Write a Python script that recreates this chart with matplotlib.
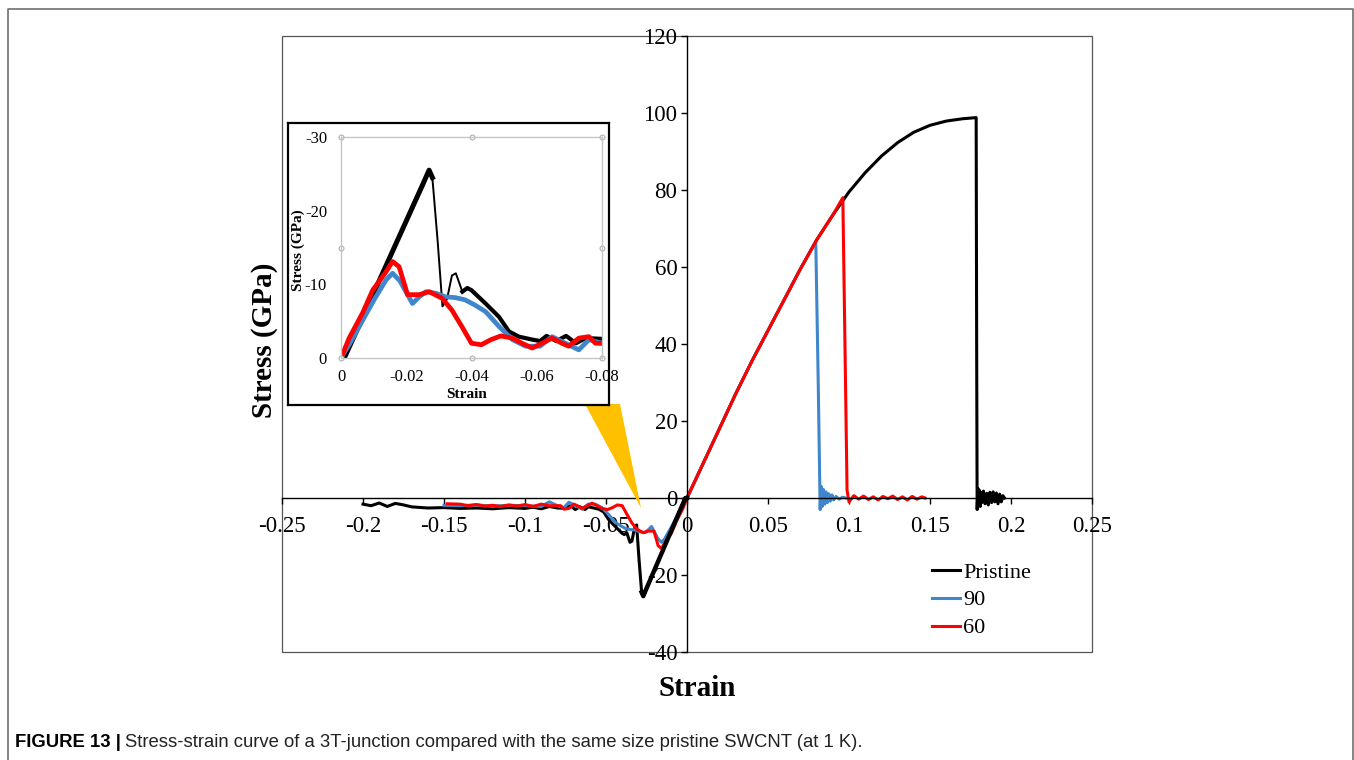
import numpy as np
import matplotlib as mpl
mpl.use('Agg')
import matplotlib.pyplot as plt
from matplotlib.patches import Rectangle, Polygon
from matplotlib.lines import Line2D

# ---- tension side (strain, stress in GPa) ----
pristine_t_x = [0.0, 0.01, 0.02, 0.03, 0.04, 0.05, 0.06, 0.07, 0.08, 0.09, 0.10, 0.11, 0.12, 0.13,
                0.14, 0.15, 0.16, 0.17, 0.1785, 0.1788, 0.1791, 0.1796, 0.180, 0.1805, 0.181, 0.1815,
                0.182, 0.183, 0.184, 0.185, 0.186, 0.187, 0.188, 0.189, 0.190, 0.191, 0.192, 0.193,
                0.194, 0.195, 0.196]
pristine_t_y = [0, 9, 18, 27, 35.5, 43.5, 51.5, 59.5, 67, 73.5, 79.5, 84.5, 88.8, 92.3,
                95, 96.8, 97.9, 98.5, 98.8, 40, -3, 2.5, -2, 2, -2.2, 1.5,
                -1.2, 1.8, -1.5, 1.2, -1.8, 1.5, -1.2, 1.6, -1.0, 1.3, -1.5, 1.0,
                -1.0, 0.6, 0]

blue_t_x = [0.0, 0.01, 0.02, 0.03, 0.04, 0.05, 0.06, 0.07, 0.0795, 0.081, 0.0822, 0.0828, 0.0835,
            0.0842, 0.085, 0.0858, 0.0866, 0.0875, 0.0885, 0.0895, 0.0905, 0.092, 0.094, 0.096, 0.098]
blue_t_y = [0, 9, 18, 27, 35.5, 43.5, 51.5, 59.5, 66.5, 30, -3, 3, -2.2,
            2.2, -1.6, 1.6, -1.2, 1.1, -0.8, 0.8, -0.5, 0.4, -0.3, 0.2, 0]

red_t_x = [0.0, 0.01, 0.02, 0.03, 0.04, 0.05, 0.06, 0.07, 0.08, 0.09, 0.0962, 0.0975, 0.0988,
           0.1, 0.103, 0.106, 0.109, 0.112, 0.115, 0.118, 0.121, 0.124, 0.127, 0.130, 0.133,
           0.136, 0.139, 0.142, 0.145, 0.147]
red_t_y = [0, 9, 18, 27, 35.5, 43.5, 51.5, 59.5, 67, 73.5, 78, 40, 2,
           -1, 0.6, -0.3, 0.5, -0.4, 0.3, -0.5, 0.4, -0.2, 0.5, -0.4, 0.3,
           -0.5, 0.4, -0.3, 0.3, 0]

# ---- compression side (magnitudes; plotted as negative strain / stress) ----
pristine_c_x = [0, 0.001, 0.005, 0.01, 0.015, 0.02, 0.025, 0.027, 0.028, 0.0296, 0.0311, 0.0325,
                0.034, 0.0352, 0.0372, 0.0387, 0.040, 0.0443, 0.0484, 0.0515, 0.0545, 0.0586,
                0.061, 0.063, 0.066, 0.069, 0.072, 0.075, 0.08, 0.085, 0.09, 0.095, 0.1, 0.11,
                0.12, 0.13, 0.14, 0.15, 0.16, 0.17, 0.175, 0.18, 0.185, 0.19, 0.195, 0.2]
pristine_c_y = [0, 0, 3.9, 8.8, 13.7, 18.6, 23.5, 25.5, 24.5, 16, 7, 8,
                11.2, 11.5, 9, 9.5, 9.2, 7.4, 5.6, 3.6, 2.9, 2.5,
                2.3, 3.0, 2.3, 3.0, 2.0, 2.7, 2.6, 2.2, 2.8, 2.4, 2.7, 2.5,
                2.8, 2.6, 2.7, 2.5, 2.6, 2.3, 1.8, 1.4, 2.2, 1.3, 2.0, 1.6]

blue_c_x = [0, 0.003, 0.006, 0.01, 0.0138, 0.0158, 0.018, 0.0219, 0.024, 0.026, 0.029, 0.032,
            0.035, 0.038, 0.041, 0.0443, 0.0484, 0.0525, 0.0566, 0.061, 0.0647, 0.0688, 0.0729,
            0.076, 0.08, 0.085, 0.09, 0.1, 0.11, 0.12, 0.13, 0.14, 0.15]
blue_c_y = [0, 2.2, 4.6, 7.8, 10.6, 11.5, 10.5, 7.4, 8.3, 9.0, 8.8, 8.3,
            8.2, 7.9, 7.2, 6.3, 4.3, 2.5, 1.6, 1.6, 2.9, 2.0, 1.1,
            2.5, 2.0, 1.0, 2.2, 2.0, 1.9, 2.1, 1.8, 2.0, 1.9]

red_c_x = [0, 0.0025, 0.0066, 0.0097, 0.0138, 0.0158, 0.0178, 0.0204, 0.024, 0.027, 0.031, 0.034,
           0.037, 0.040, 0.043, 0.046, 0.049, 0.0525, 0.0555, 0.0586, 0.0616, 0.0647, 0.0677,
           0.0698, 0.0729, 0.076, 0.078, 0.08, 0.085, 0.09, 0.095, 0.1, 0.105, 0.11, 0.115,
           0.12, 0.125, 0.13, 0.135, 0.14, 0.148]
red_c_y = [0, 2.7, 6.1, 9.2, 11.7, 13.1, 12.4, 8.6, 8.6, 9.0, 8.1, 6.5,
           4.3, 2.0, 1.8, 2.5, 3.0, 2.7, 2.0, 1.35, 2.0, 2.7, 2.0,
           1.6, 2.7, 2.9, 2.0, 2.0, 2.0, 1.6, 2.2, 1.7, 2.1, 1.8, 2.2,
           1.9, 2.1, 1.7, 2.0, 1.6, 1.5]

labels = ['Pristine', '90', '60']
colors = ['black', '#3f86cc', '#ff0000']

main_xticks = [-0.25, -0.2, -0.15, -0.1, -0.05, 0, 0.05, 0.1, 0.15, 0.2, 0.25]
main_yticks = [-40, -20, 0, 20, 40, 60, 80, 100, 120]
inset_xticks = [0, -0.02, -0.04, -0.06, -0.08]
inset_yticks = [0, -10, -20, -30]

serif = 'Liberation Serif'
W, H = 1354, 760
def fx(p): return p / W
def fy(p): return 1 - p / H

fig = plt.figure(figsize=(W / 100, H / 100), dpi=100)

# ---------- main chart ----------
ax = fig.add_axes([fx(282), fy(652), 810 / W, 616 / H])
ax.set_xlim(-0.25, 0.25)
ax.set_ylim(-40, 120)
series = [(pristine_t_x, pristine_t_y, pristine_c_x, pristine_c_y),
          (blue_t_x, blue_t_y, blue_c_x, blue_c_y),
          (red_t_x, red_t_y, red_c_x, red_c_y)]
for (tx, ty, cx, cy), c, lab in zip(series, colors, labels):
    ax.plot(tx, ty, color=c, lw=2.2, label=lab, solid_joinstyle='round')
    ax.plot(-np.array(cx), -np.array(cy), color=c, lw=2.2, solid_joinstyle='round')
# thicker noisy band of the pristine curve before compressive failure
ax.plot(-np.array(pristine_c_x[:9]), -np.array(pristine_c_y[:9]), color='black', lw=3.2)
ax.spines['left'].set_position(('data', 0))
ax.spines['bottom'].set_position(('data', 0))
ax.spines['top'].set_visible(False)
ax.spines['right'].set_visible(False)
for s in ['left', 'bottom']:
    ax.spines[s].set_linewidth(1.0)
ax.add_patch(Rectangle((0, 0), 1, 1, transform=ax.transAxes, fill=False,
                       ec='#555555', lw=0.9, clip_on=False))
ax.set_xticks(main_xticks)
ax.set_xticklabels(['-0.25', '-0.2', '-0.15', '-0.1', '-0.05', '0', '0.05', '0.1', '0.15', '0.2', '0.25'])
ax.set_yticks(main_yticks)
ax.set_yticklabels([str(v) for v in main_yticks])
ax.tick_params(axis='both', labelsize=16.5, direction='out', length=4, width=1)
ax.tick_params(axis='x', pad=9)
ax.tick_params(axis='y', pad=3)
for t in ax.get_xticklabels() + ax.get_yticklabels():
    t.set_family(serif)

fig.text(fx(265), fy(340), 'Stress (GPa)', rotation=90, ha='center', va='center',
         family=serif, fontweight='bold', fontsize=21)
fig.text(fx(697), fy(688), 'Strain', ha='center', va='center',
         family=serif, fontweight='bold', fontsize=21)

ax.legend(loc='upper left', bbox_to_anchor=(fx(932), fy(562)), bbox_transform=fig.transFigure,
          frameon=False, prop={'family': serif, 'size': 16}, handlelength=1.25,
          handletextpad=0.15, labelspacing=0.33, borderpad=0, borderaxespad=0)

# callout triangle
tri = Polygon([(fx(585), fy(404)), (fx(620), fy(404)), (fx(641), fy(508))],
              closed=True, transform=fig.transFigure, facecolor='#ffc000', edgecolor='none', zorder=0.5)
fig.add_artist(tri)

# ---------- inset ----------
box = fig.add_axes([fx(288), fy(405), 321 / W, 282 / H], zorder=1)
box.set_xticks([])
box.set_yticks([])
for s in box.spines.values():
    s.set_linewidth(1.6)
    s.set_color('black')

ins = fig.add_axes([fx(341), fy(358), 261 / W, 221 / H], zorder=2)
ins.set_facecolor('none')
ins.set_xlim(0, -0.08)
ins.set_ylim(0, -30)
ins.plot(-np.array(pristine_c_x[:9]), -np.array(pristine_c_y[:9]), color='black', lw=3.6)
ins.plot(-np.array(pristine_c_x[7:15]), -np.array(pristine_c_y[7:15]), color='black', lw=1.4)
ins.plot(-np.array(pristine_c_x[14:]), -np.array(pristine_c_y[14:]), color='black', lw=3.0)
ins.plot(-np.array(blue_c_x), -np.array(blue_c_y), color=colors[1], lw=3.4)
ins.plot(-np.array(red_c_x), -np.array(red_c_y), color=colors[2], lw=3.4)
for s in ins.spines.values():
    s.set_color('#c4c4c4')
    s.set_linewidth(1.0)
hx = [0, 0.5, 1, 0, 1, 0, 0.5, 1]
hy = [0, 0, 0, 0.5, 0.5, 1, 1, 1]
ins.plot(hx, hy, 'o', transform=ins.transAxes, ms=3.5, mfc='white', mec='#b0b0b0',
         mew=0.8, clip_on=False)
ins.set_xticks(inset_xticks)
ins.set_xticklabels(['0', '-0.02', '-0.04', '-0.06', '-0.08'])
ins.set_yticks(inset_yticks)
ins.set_yticklabels(['0', '-10', '-20', '-30'])
ins.tick_params(axis='both', length=0, labelsize=12)
ins.tick_params(axis='x', pad=8)
ins.tick_params(axis='y', pad=10)
for t in ins.get_xticklabels() + ins.get_yticklabels():
    t.set_family(serif)
fig.text(fx(467), fy(395), 'Strain', ha='center', va='center', family=serif,
         fontweight='bold', fontsize=11)
fig.text(fx(298), fy(250), 'Stress (GPa)', rotation=90, ha='center', va='center',
         family=serif, fontweight='bold', fontsize=11)

# ---------- outer frame and caption ----------
fig.add_artist(Line2D([fx(7.5), fx(7.5), fx(1352.5), fx(1352.5)], [0, fy(8.5), fy(8.5), 0],
                      color='#707070', lw=1.2))
t1 = fig.text(fx(15), fy(747), 'FIGURE 13 |', family='Liberation Sans', fontweight='bold',
              fontsize=13.3, va='baseline', ha='left')
fig.canvas.draw()
bb = t1.get_window_extent()
fig.text(bb.x1 / W + 4 / W, fy(747),
         'Stress-strain curve of a 3T-junction compared with the same size pristine SWCNT (at 1 K).',
         family='Liberation Sans', fontsize=13.3, va='baseline', ha='left', color='#222222')

fig.savefig('out.png', dpi=100)
